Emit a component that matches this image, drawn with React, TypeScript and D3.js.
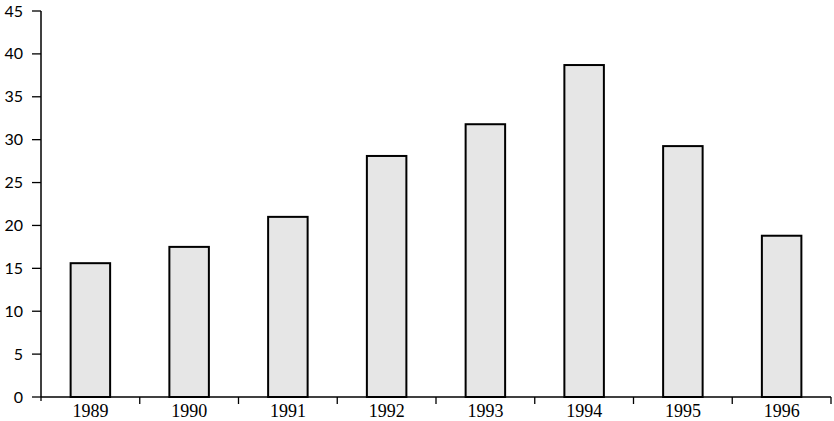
import React from "react";
import * as d3 from "d3";

const years = ["1989", "1990", "1991", "1992", "1993", "1994", "1995", "1996"];
const values = [15.6, 17.5, 21.0, 28.1, 31.8, 38.7, 29.25, 18.8];
const yTicks = [0, 5, 10, 15, 20, 25, 30, 35, 40, 45];

const W = 834;
const H = 421;
const M = { left: 41, right: 3, top: 11, bottom: 24 };

export default function App() {
  const x = d3
    .scaleBand<string>()
    .domain(years)
    .range([M.left, W - M.right])
    .paddingInner(0.6)
    .paddingOuter(0.3);
  const band = d3.scaleBand<string>().domain(years).range([M.left, W - M.right]);
  const y = d3.scaleLinear().domain([0, 45]).range([H - M.bottom, M.top]);
  const y0 = y(0);

  return (
    <svg
      width={W}
      height={H}
      style={{ position: "absolute", left: 0, top: 0, background: "#fff" }}
    >
      {years.map((yr, i) => (
        <rect
          key={yr}
          x={x(yr)!}
          y={y(values[i])}
          width={x.bandwidth()}
          height={y0 - y(values[i])}
          fill="#e6e6e6"
          stroke="#000"
          strokeWidth={2}
        />
      ))}
      {/* y axis */}
      <line x1={M.left} x2={M.left} y1={y(45)} y2={y0} stroke="#000" strokeWidth={1.5} />
      {yTicks.map((t) => (
        <g key={t}>
          <line x1={M.left - 9} x2={M.left} y1={y(t)} y2={y(t)} stroke="#000" strokeWidth={1.3} />
          <text
            x={23}
            y={y(t)}
            dy="0.35em"
            textAnchor="end"
            fontFamily="Lato, 'Open Sans', sans-serif"
            fontSize={16}
            fill="#000"
          >
            {t}
          </text>
        </g>
      ))}
      {/* x axis */}
      <line x1={M.left} x2={W - M.right} y1={y0} y2={y0} stroke="#000" strokeWidth={1.5} />
      {years.map((yr) => (
        <line
          key={"t" + yr}
          x1={band(yr)! + band.bandwidth()}
          x2={band(yr)! + band.bandwidth()}
          y1={y0}
          y2={y0 + 7}
          stroke="#000"
          strokeWidth={1.3}
        />
      ))}
      <line x1={M.left} x2={M.left} y1={y0} y2={y0 + 4} stroke="#000" strokeWidth={1.3} />
      {years.map((yr) => (
        <text
          key={"l" + yr}
          x={band(yr)! + band.bandwidth() / 2}
          y={417}
          textAnchor="middle"
          fontFamily="'Liberation Serif', 'DejaVu Serif', serif"
          fontSize={18}
          fill="#000"
        >
          {yr}
        </text>
      ))}
    </svg>
  );
}
